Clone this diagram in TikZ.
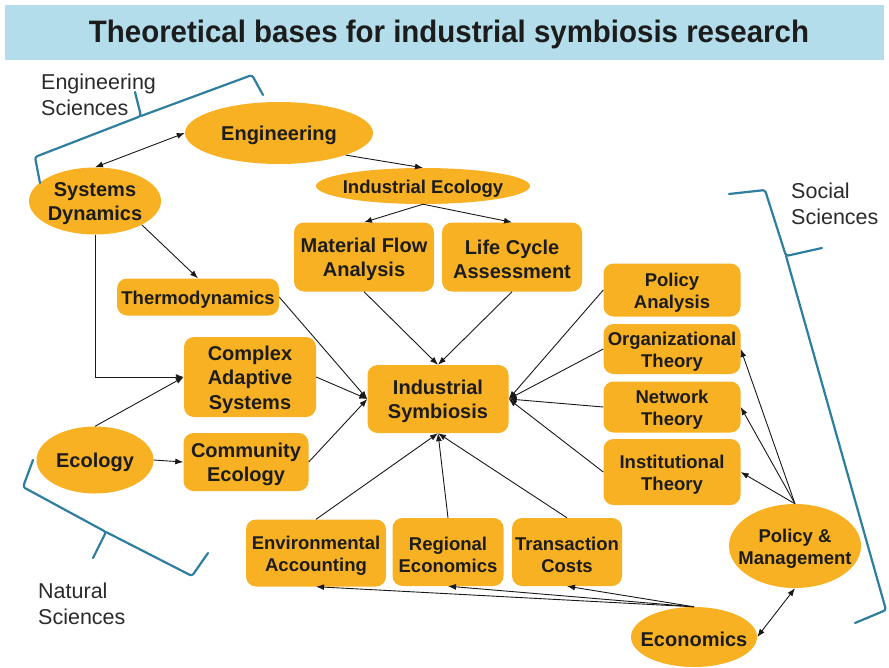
\documentclass[tikz,border=0pt]{standalone}
\usepackage{fontspec}
\usepackage{graphicx}
\setmainfont{Liberation Sans}
\usetikzlibrary{shapes.geometric,arrows.meta}
\definecolor{orng}{HTML}{F8B122}
\definecolor{bannerblue}{HTML}{B3DDEA}
\definecolor{brk}{HTML}{2E7EA0}
\definecolor{txt}{HTML}{1C1C1C}
\definecolor{lbl}{HTML}{2A2A2A}
\begin{document}
\begin{tikzpicture}[x=1pt,y=-1pt,
  bigfont/.style={font=\bfseries\fontsize{20}{24.5}\selectfont},
  smallfont/.style={font=\bfseries\fontsize{18.5}{22}\selectfont},
  box/.style={rectangle, rounded corners=10pt, fill=orng, inner sep=0pt},
  ell/.style={ellipse, fill=orng, inner sep=0pt},
  etext/.style={text=txt, align=center, inner sep=0pt, yshift=-2.5pt},
  arr/.style={-{Latex[length=8pt,width=6pt]}, line width=0.9pt, draw=black!90},
  darr/.style={{Latex[length=8pt,width=6pt]}-{Latex[length=8pt,width=6pt]}, line width=0.9pt, draw=black!90},
  brace/.style={draw=brk, line width=2.2pt, line join=round, line cap=round, rounded corners=2.5pt},
  sci/.style={text=lbl, align=left, anchor=west, inner sep=0pt, font=\fontsize{21.5}{26.5}\selectfont}
]
\useasboundingbox (0,0) rectangle (889,667);
% title banner
\fill[bannerblue] (5,5) rectangle (884,60);
\node[font=\bfseries\fontsize{31}{35}\selectfont, text=txt] (title) at (449,34)
  {\scalebox{0.95}[1]{Theoretical bases for industrial symbiosis research}};

% ellipses
\node[ell, minimum width=188, minimum height=62] (eng) at (279,133) {};
\node[etext, bigfont] (engt) at (eng) {Engineering};
\node[ell, minimum width=132, minimum height=67] (sd) at (95,201) {};
\node[etext, bigfont] (sdt) at (sd) {Systems\\Dynamics};
\node[ell, minimum width=214, minimum height=36] (ie) at (423,186) {};
\node[etext, smallfont] (iet) at (ie) {Industrial Ecology};
\node[ell, minimum width=117, minimum height=67] (eco) at (95,460) {};
\node[etext, bigfont] (ecot) at (eco) {Ecology};
\node[ell, minimum width=126, minimum height=60] (econ) at (694,637) {};
\node[etext, bigfont] (econt) at (econ) {Economics};
\node[ell, minimum width=132, minimum height=84] (pm) at (795,546) {};
\node[etext, smallfont] (pmt) at (pm) {Policy \&\\Management};

% boxes
\node[box, minimum width=140, minimum height=69] (mfa) at (364,257) {};
\node[etext, bigfont] (mfat) at (mfa) {Material Flow\\Analysis};
\node[box, minimum width=140, minimum height=69] (lca) at (512,257) {};
\node[etext, bigfont] (lcat) at (lca) {Life Cycle\\Assessment};
\node[box, minimum width=162, minimum height=37] (thermo) at (198,297) {};
\node[etext, smallfont] (thermot) at (thermo) {Thermodynamics};
\node[box, minimum width=132, minimum height=80] (cas) at (250,377) {};
\node[etext, bigfont] (cast) at (cas) {Complex\\Adaptive\\Systems};
\node[box, minimum width=125, minimum height=58] (ce) at (246,462) {};
\node[etext, font=\bfseries\fontsize{20}{23.5}\selectfont] (cet) at (ce) {Community\\Ecology};
\node[box, minimum width=141, minimum height=68] (is) at (438,399) {};
\node[etext, bigfont] (ist) at (is) {Industrial\\Symbiosis};
\node[box, minimum width=140, minimum height=67] (ea) at (316,553) {};
\node[etext, smallfont] (eat) at (ea) {Environmental\\Accounting};
\node[box, minimum width=111, minimum height=68] (re) at (448,552) {};
\node[etext, smallfont] (ret) at (re) {Regional\\Economics};
\node[box, minimum width=110, minimum height=68] (tc) at (567,552) {};
\node[etext, smallfont] (tct) at (tc) {Transaction\\Costs};
\node[box, minimum width=137, minimum height=53] (pa) at (672,290) {};
\node[etext, smallfont] (pat) at (pa) {Policy\\Analysis};
\node[box, minimum width=137, minimum height=50] (ot) at (672,349) {};
\node[etext, smallfont] (ott) at (ot) {Organizational\\Theory};
\node[box, minimum width=137, minimum height=51] (nt) at (672,407) {};
\node[etext, smallfont] (ntt) at (nt) {Network\\Theory};
\node[box, minimum width=137, minimum height=66] (it) at (672,472) {};
\node[etext, smallfont] (itt) at (it) {Institutional\\Theory};

% connectors
\draw[darr] (eng.west) -- (sd.north);
\draw[arr] (eng.south east) -- (ie.north);
\draw[arr] (ie.south) -- (mfa.north);
\draw[arr] (ie.south) -- (lca.north);
\draw[arr] (sd.south east) -- (thermo.north);
\draw[arr] (sd.south) |- (cas.west);
\draw[arr] (thermo.east) -- (is.west);
\draw[arr] (cas.east) -- (is.west);
\draw[arr] (ce.east) -- (is.west);
\draw[arr] (eco.north) -- (cas.west);
\draw[arr] (eco.east) -- (ce.west);
\draw[arr] (mfa.south) -- (is.north);
\draw[arr] (lca.south) -- (is.north);
\draw[arr] (ea.north) -- (is.south);
\draw[arr] (re.north) -- (is.south);
\draw[arr] (tc.north) -- (is.south);
\draw[arr] (pa.west) -- (is.east);
\draw[arr] (ot.west) -- (is.east);
\draw[arr] (nt.west) -- (is.east);
\draw[arr] (it.west) -- (is.east);
\draw[arr] (pm.north) -- (ot.east);
\draw[arr] (pm.north) -- (nt.east);
\draw[arr] (pm.north) -- (it.east);
\draw[arr] (econ.north) -- (ea.south);
\draw[arr] (econ.north) -- (re.south);
\draw[arr] (econ.north) -- (tc.south);
\draw[darr] (econ.east) -- (pm.south);

% braces
\draw[brace] (40,183) -- (35,157) -- (141,116) -- (135,92);
\draw[brace] (141,116) -- (252,75) -- (263,95);
\draw[brace] (729,194) -- (765,190) -- (786,256) -- (822,248);
\draw[brace] (786,256) -- (886,610) -- (855,623);
\draw[brace] (33,460) -- (23,487) -- (106,532) -- (93,558);
\draw[brace] (106,532) -- (192,576) -- (208,553);

% science labels
\node[sci] (engsci) at (41,95) {Engineering\\Sciences};
\node[sci] (socsci) at (791,204) {Social\\Sciences};
\node[sci] (natsci) at (38,604) {Natural\\Sciences};
\end{tikzpicture}
\end{document}
